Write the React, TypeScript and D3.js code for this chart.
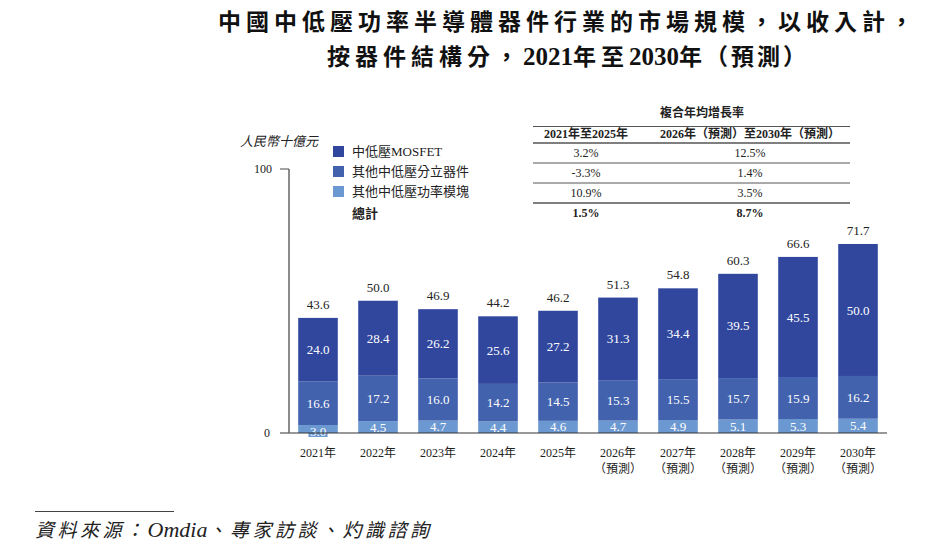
import React from 'react';
import * as d3 from 'd3';

const years = ['2021年', '2022年', '2023年', '2024年', '2025年', '2026年', '2027年', '2028年', '2029年', '2030年'];
const forecast = [false, false, false, false, false, true, true, true, true, true];
const mosfet = [24.0, 28.4, 26.2, 25.6, 27.2, 31.3, 34.4, 39.5, 45.5, 50.0];
const discrete = [16.6, 17.2, 16.0, 14.2, 14.5, 15.3, 15.5, 15.7, 15.9, 16.2];
const modules = [3.0, 4.5, 4.7, 4.4, 4.6, 4.7, 4.9, 5.1, 5.3, 5.4];
const totals = [43.6, 50.0, 46.9, 44.2, 46.2, 51.3, 54.8, 60.3, 66.6, 71.7];

const seriesNames = ['中低壓MOSFET', '其他中低壓分立器件', '其他中低壓功率模塊'];
const seriesColors = ['#31479e', '#4262ae', '#6b98d0'];

const cagrHeaders = ['2021年至2025年', '2026年（預測）至2030年（預測）'];
const cagrFirst = ['3.2%', '-3.3%', '10.9%', '1.5%'];
const cagrSecond = ['12.5%', '1.4%', '3.5%', '8.7%'];

const serif = "'Liberation Serif', 'Noto Sans CJK TC', serif";

export default function App() {
  const width = 950;
  const height = 551;
  const x = d3.scaleBand().domain(years).range([288, 888]).paddingInner(0.34).paddingOuter(0.17);
  const y = d3.scaleLinear().domain([0, 100]).range([433, 169]);

  const rows = years.map((yr, i) => ({ year: yr, m: mosfet[i], d: discrete[i], o: modules[i] }));
  // stack from bottom: modules, discrete, mosfet
  const stack = d3.stack<any>().keys(['o', 'd', 'm'])(rows);
  const keyColor: Record<string, string> = { o: seriesColors[2], d: seriesColors[1], m: seriesColors[0] };

  const bw = x.bandwidth();

  return (
    <svg width={width} height={height} style={{ display: 'block', position: 'absolute', left: 0, top: 0 }} fontFamily={serif}>
      {/* title */}
      <text x={568} y={30} textAnchor="middle" fontSize={23} fontWeight="bold" letterSpacing={5} fill="#111">
        中國中低壓功率半導體器件行業的市場規模，以收入計，
      </text>
      <text x={568} y={65} textAnchor="middle" fontSize={23} fontWeight="bold" fill="#111">
        <tspan letterSpacing={5}>按器件結構分，</tspan>
        <tspan fontSize={25}>2021</tspan>
        <tspan letterSpacing={5}>年至</tspan>
        <tspan fontSize={25}>2030</tspan>
        <tspan letterSpacing={3}>年（預測）</tspan>
      </text>

      {/* unit label */}
      <text x={240} y={146} fontSize={13} fontStyle="italic" fill="#222">人民幣十億元</text>

      {/* legend */}
      {seriesNames.map((n, i) => (
        <g key={n} transform={`translate(333, ${146 + i * 20})`}>
          <rect width={11} height={11} fill={seriesColors[i]} />
          <text x={19} y={10} fontSize={13} fill="#222">{n}</text>
        </g>
      ))}
      <text x={352} y={218} fontSize={13} fontWeight="bold" fill="#222">總計</text>

      {/* CAGR table */}
      <text x={702} y={117} textAnchor="middle" fontSize={12} fontWeight="bold" fill="#222">複合年均增長率</text>
      <line x1={533} x2={850} y1={126.5} y2={126.5} stroke="#555" strokeWidth={1} />
      <text x={586} y={138} textAnchor="middle" fontSize={12} fontWeight="bold" fill="#222">{cagrHeaders[0]}</text>
      <text x={750} y={138} textAnchor="middle" fontSize={12} fontWeight="bold" fill="#222">{cagrHeaders[1]}</text>
      <line x1={533} x2={850} y1={143} y2={143} stroke="#555" strokeWidth={1.5} />
      {cagrFirst.map((v, i) => {
        const last = i === cagrFirst.length - 1;
        const cy = 157 + i * 20;
        return (
          <g key={i}>
            <text x={586} y={cy} textAnchor="middle" fontSize={12} fontWeight={last ? 'bold' : 'normal'} fill="#222">{v}</text>
            <text x={750} y={cy} textAnchor="middle" fontSize={12} fontWeight={last ? 'bold' : 'normal'} fill="#222">{cagrSecond[i]}</text>
            {!last && (
              <line x1={533} x2={850} y1={cy + 6} y2={cy + 6} stroke="#555" strokeWidth={i === 2 ? 1.5 : 1} />
            )}
          </g>
        );
      })}

      {/* bars */}
      {stack.map((layer) => (
        <g key={layer.key} fill={keyColor[layer.key]}>
          {layer.map((d, i) => (
            <rect key={i} x={x(years[i])} y={y(d[1])} width={bw} height={y(d[0]) - y(d[1])} />
          ))}
        </g>
      ))}

      {/* segment labels */}
      {stack.map((layer) =>
        layer.map((d, i) => {
          const cx = (x(years[i]) as number) + bw / 2;
          const h = y(d[0]) - y(d[1]);
          const val = (d.data as any)[layer.key] as number;
          const small = h < 11;
          const cy = small ? 431 : (y(d[0]) + y(d[1])) / 2;
          return (
            <g key={layer.key + i}>
              {small && <rect x={cx - 9.5} y={cy - 6} width={19} height={12} fill={keyColor[layer.key]} />}
              <text x={cx} y={cy} dy="0.35em" textAnchor="middle" fontSize={13} fill="#fff">
                {val.toFixed(1)}
              </text>
            </g>
          );
        })
      )}

      {/* totals */}
      {totals.map((t, i) => (
        <text key={i} x={(x(years[i]) as number) + bw / 2} y={y(t) - 9} textAnchor="middle" fontSize={13} fill="#222">
          {t.toFixed(1)}
        </text>
      ))}

      {/* axes */}
      <line x1={280} x2={887} y1={433} y2={433} stroke="#333" strokeWidth={1.2} />
      <line x1={289} x2={289} y1={169} y2={433} stroke="#666" strokeWidth={1.5} />
      <line x1={280} x2={289} y1={169} y2={169} stroke="#666" strokeWidth={1.2} />
      <text x={272} y={169} dy="0.35em" textAnchor="end" fontSize={12} fill="#222">100</text>
      <text x={270} y={433} dy="0.35em" textAnchor="end" fontSize={12} fill="#222">0</text>

      {years.map((yr, i) => {
        const cx = (x(yr) as number) + bw / 2;
        return (
          <g key={yr}>
            <text x={cx} y={457} textAnchor="middle" fontSize={12} fill="#222">{yr}</text>
            {forecast[i] && (
              <text x={cx} y={473} textAnchor="middle" fontSize={12} fill="#222">（預測）</text>
            )}
          </g>
        );
      })}

      {/* source */}
      <line x1={35} x2={174} y1={511.5} y2={511.5} stroke="#444" strokeWidth={1} />
      <text x={35} y={537} fontSize={19} fontStyle="italic" fill="#222">
        <tspan letterSpacing={3.5}>資料來源：</tspan>
        <tspan fontSize={22}>Omdia</tspan>
        <tspan letterSpacing={3.5}>、專家訪談、灼識諮詢</tspan>
      </text>
    </svg>
  );
}
